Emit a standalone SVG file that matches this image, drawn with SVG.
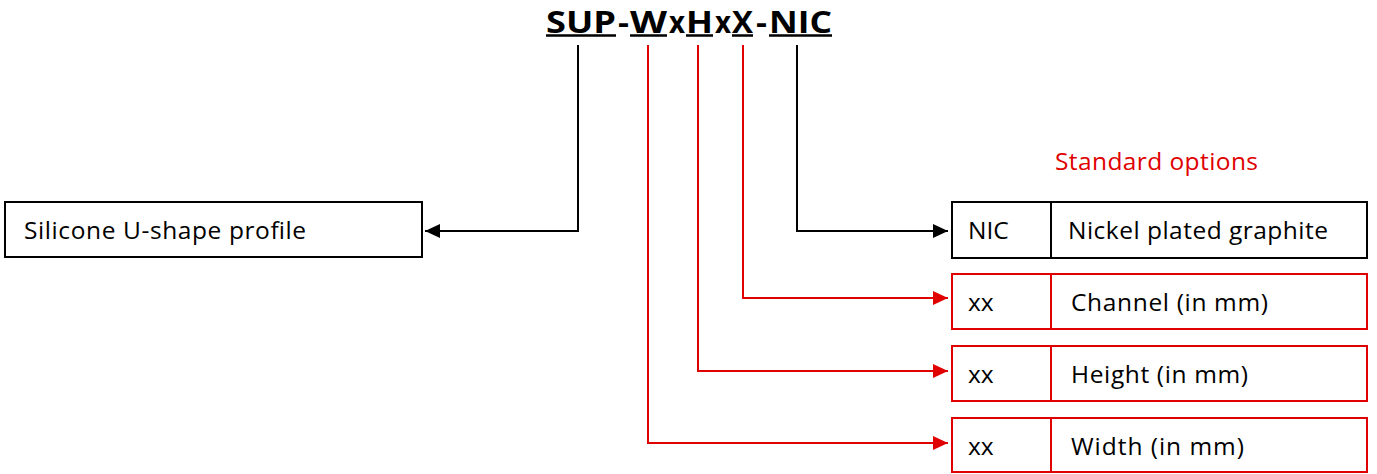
<svg xmlns="http://www.w3.org/2000/svg" width="1377" height="474" viewBox="0 0 1377 474">
<style>
text{font-family:"Open Sans","Liberation Sans",sans-serif;font-size:24.5px;fill:#000}
.t{font-weight:bold;font-size:31px;font-family:"Open Sans","Liberation Sans",sans-serif}
.r{fill:#e00000}
.box{fill:#fff;stroke:#000;stroke-width:2}
.rbox{fill:#fff;stroke:#e00000;stroke-width:2}
.ck{fill:none;stroke:#000;stroke-width:2}
.cr{fill:none;stroke:#e00000;stroke-width:2}
</style>
<defs>
<marker id="ak" markerWidth="15" markerHeight="14" refX="15" refY="7" orient="auto" markerUnits="userSpaceOnUse"><path d="M0,0 L15,7 L0,14 Z" fill="#000"/></marker>
<marker id="ar" markerWidth="15" markerHeight="14" refX="15" refY="7" orient="auto" markerUnits="userSpaceOnUse"><path d="M0,0 L15,7 L0,14 Z" fill="#e00000"/></marker>
</defs>
<rect width="1377" height="474" fill="#fff"/>
<g id="title">
<text class="t" x="546" y="33" textLength="70" lengthAdjust="spacingAndGlyphs">SUP</text>
<text class="t" x="618" y="33" textLength="11" lengthAdjust="spacingAndGlyphs">-</text>
<text class="t" x="630" y="33" textLength="37" lengthAdjust="spacingAndGlyphs">W</text>
<text class="t" x="669" y="33" textLength="16" lengthAdjust="spacingAndGlyphs">x</text>
<text class="t" x="686" y="33" textLength="27" lengthAdjust="spacingAndGlyphs">H</text>
<text class="t" x="715" y="33" textLength="16" lengthAdjust="spacingAndGlyphs">x</text>
<text class="t" x="732" y="33" textLength="21" lengthAdjust="spacingAndGlyphs">X</text>
<text class="t" x="756" y="33" textLength="11" lengthAdjust="spacingAndGlyphs">-</text>
<text class="t" x="769" y="33" textLength="63" lengthAdjust="spacingAndGlyphs">NIC</text>
<path d="M546,35.5H616M630,35.5H667M686,35.5H713M732,35.5H753M769,35.5H832" stroke="#000" stroke-width="2.5"/>
</g>
<g id="standard-options">
<text class="r" x="1055" y="170" textLength="203">Standard options</text>
</g>
<g id="connectors">
<path class="ck" d="M578,45V231H425" marker-end="url(#ak)"/>
<path class="ck" d="M797,45V231H948" marker-end="url(#ak)"/>
<path class="cr" d="M743,45V298H948" marker-end="url(#ar)"/>
<path class="cr" d="M698,45V371H948" marker-end="url(#ar)"/>
<path class="cr" d="M648,45V443H948" marker-end="url(#ar)"/>
</g>
<g id="profile">
<rect class="box" x="5" y="202" width="417" height="55"/>
<text x="24" y="239" textLength="282">Silicone U-shape profile</text>
</g>
<g id="nic">
<rect class="box" x="952" y="202" width="415" height="56"/>
<line class="ck" x1="1051" y1="202" x2="1051" y2="258"/>
<text x="968" y="239">NIC</text>
<text x="1068" y="239" textLength="260">Nickel plated graphite</text>
</g>
<g id="channel">
<rect class="rbox" x="952" y="274" width="415" height="55"/>
<line class="cr" x1="1051" y1="274" x2="1051" y2="329"/>
<text x="968" y="311">xx</text>
<text x="1071" y="311" textLength="197">Channel (in mm)</text>
</g>
<g id="height">
<rect class="rbox" x="952" y="346" width="415" height="55"/>
<line class="cr" x1="1051" y1="346" x2="1051" y2="401"/>
<text x="968" y="383">xx</text>
<text x="1071" y="383" textLength="177">Height (in mm)</text>
</g>
<g id="width">
<rect class="rbox" x="952" y="418" width="415" height="54"/>
<line class="cr" x1="1051" y1="418" x2="1051" y2="472"/>
<text x="968" y="455">xx</text>
<text x="1071" y="455" textLength="173">Width (in mm)</text>
</g>
</svg>
